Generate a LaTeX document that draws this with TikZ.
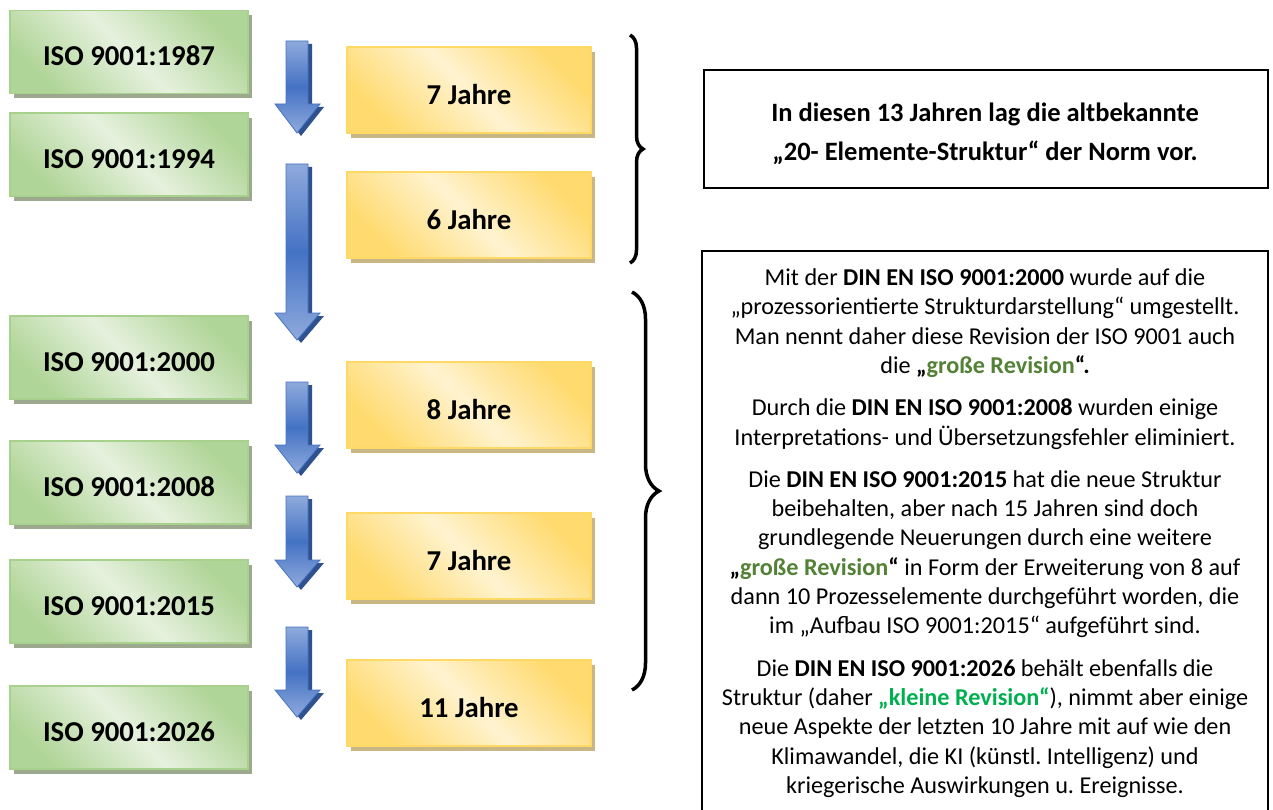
\documentclass[tikz,border=0pt]{standalone}
\usepackage{fontspec}
\setmainfont{Carlito}
\frenchspacing
\usetikzlibrary{decorations.pathreplacing,shadows}
\definecolor{gdark}{HTML}{B0D598}
\definecolor{glight}{HTML}{E6F1DE}
\definecolor{gborder}{HTML}{A9D18E}
\definecolor{gshadow}{HTML}{9CA98F}
\definecolor{ydark}{HTML}{FFDA6E}
\definecolor{ylight}{HTML}{FFF3D0}
\definecolor{yborder}{HTML}{FFD966}
\definecolor{yshadow}{HTML}{C8B784}
\definecolor{blight}{HTML}{8FAADC}
\definecolor{bmid}{HTML}{4472C4}
\definecolor{bshadow}{HTML}{2F528F}
\definecolor{olivegreen}{HTML}{538135}
\definecolor{brightgreen}{HTML}{00B050}
\newcommand{\isoarrow}[3]{%
  \fill[bshadow] (290,#1+3) -- (312,#1+3) -- (312,#2+3) -- (324,#2+3) -- (301,#3+3) -- (279,#2+3) -- (290,#2+3) -- cycle;
  \shade[draw=bmid, line width=0.8pt, top color=blight, bottom color=blight, middle color=bmid]
    (286,#1) -- (308,#1) -- (308,#2) -- (320,#2) -- (297,#3) -- (275,#2) -- (286,#2) -- cycle;}
\begin{document}
\begin{tikzpicture}[x=1pt,y=-1pt,
  gbox/.style={draw=gborder, line width=1.5pt, left color=gdark, right color=gdark, middle color=glight, shading angle=135,
    minimum width=238pt, minimum height=83pt, inner sep=0pt, text height=27.5pt, text depth=0pt,
    font=\fontsize{28.8}{34}\selectfont\bfseries,
    drop shadow={shadow xshift=4pt, shadow yshift=-5pt, fill=gshadow, opacity=1}},
  ybox/.style={draw=yborder, line width=1.5pt, left color=ydark, right color=ydark, middle color=ylight, shading angle=135,
    minimum width=244pt, minimum height=86pt, inner sep=0pt, text height=28.5pt, text depth=0pt,
    font=\fontsize{28.8}{34}\selectfont\bfseries,
    drop shadow={shadow xshift=4pt, shadow yshift=-5pt, fill=yshadow, opacity=1}},
  infobox/.style={draw, line width=2pt, inner sep=0pt},
  bracepath/.style={line width=3.5pt, decorate},
  bodytext/.style={align=center, inner sep=0pt, font=\fontsize{24.2}{29.3}\selectfont}
]
\useasboundingbox[fill=white] (0,0) rectangle (1273,810);

% green edition boxes
\node[gbox] (g1) at (129,52) {ISO 9001:1987};
\node[gbox] (g2) at (129,154.5) {ISO 9001:1994};
\node[gbox] (g3) at (129,357.5) {ISO 9001:2000};
\node[gbox] (g4) at (129,482.5) {ISO 9001:2008};
\node[gbox] (g5) at (129,601.5) {ISO 9001:2015};
\node[gbox] (g6) at (129,727.5) {ISO 9001:2026};

% yellow duration boxes
\node[ybox] (y1) at (469,90) {7 Jahre};
\node[ybox] (y2) at (469,215) {6 Jahre};
\node[ybox] (y3) at (469,405) {8 Jahre};
\node[ybox] (y4) at (469,556) {7 Jahre};
\node[ybox] (y5) at (469,703) {11 Jahre};

% blue arrows
\isoarrow{41}{104}{133}
\isoarrow{164}{313}{340}
\isoarrow{382}{445}{473}
\isoarrow{496}{560}{587}
\isoarrow{627}{690}{717}

% braces
\coordinate (b1s) at (630,35);
\coordinate (b1e) at (630,263);
\coordinate (b2s) at (632,292);
\coordinate (b2e) at (632,690);
\draw[bracepath, decoration={brace, amplitude=13pt}] (b1s) -- (b1e);
\draw[bracepath, decoration={brace, amplitude=27pt}] (b2s) -- (b2e);

% info box 1
\node[infobox, anchor=north west, minimum width=564pt, minimum height=118pt] (info1) at (703,69) {};
\node[bodytext, font=\fontsize{26.5}{39}\selectfont\bfseries] (info1t) at (985,133.5)
  {In diesen 13 Jahren lag die altbekannte\\„20- Elemente-Struktur“ der Norm vor.};

% info box 2 (open at the bottom edge)
\coordinate (i2bl) at (702,810);
\coordinate (i2tl) at (702,251);
\coordinate (i2tr) at (1268,251);
\coordinate (i2br) at (1268,810);
\draw[line width=2pt] (i2bl) -- (i2tl) -- (i2tr) -- (i2br);
\node[bodytext, anchor=north] (info2t) at (985,268.5)
  {Mit der \textbf{DIN EN ISO 9001:2000} wurde auf die\\
   „prozessorientierte Strukturdarstellung“ umgestellt.\\
   Man nennt daher diese Revision der ISO 9001 auch\\
   die \textbf{„\textcolor{olivegreen}{große Revision}“.}\\[13pt]
   Durch die \textbf{DIN EN ISO 9001:2008} wurden einige\\
   Interpretations- und Übersetzungsfehler eliminiert.\\[13pt]
   Die \textbf{DIN EN ISO 9001:2015} hat die neue Struktur\\
   beibehalten, aber nach 15 Jahren sind doch\\
   grundlegende Neuerungen durch eine weitere\\
   \textbf{„\textcolor{olivegreen}{große Revision}“} in Form der Erweiterung von 8 auf\\
   dann 10 Prozesselemente durchgeführt worden, die\\
   im „Aufbau ISO 9001:2015“ aufgeführt sind.\\[13pt]
   Die \textbf{DIN EN ISO 9001:2026} behält ebenfalls die\\
   Struktur (daher \textbf{\textcolor{brightgreen}{„kleine Revision“}}), nimmt aber einige\\
   neue Aspekte der letzten 10 Jahre mit auf wie den\\
   Klimawandel, die KI (künstl. Intelligenz) und\\
   kriegerische Auswirkungen u. Ereignisse.};
\end{tikzpicture}
\end{document}
